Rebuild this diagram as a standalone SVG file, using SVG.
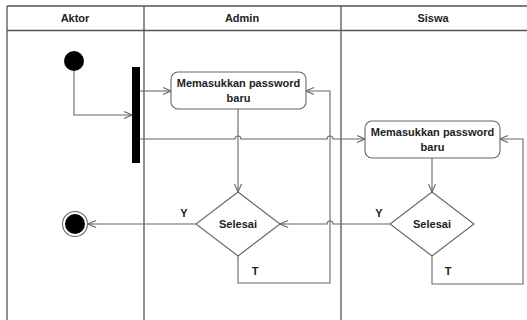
<svg xmlns="http://www.w3.org/2000/svg" width="527" height="320" viewBox="0 0 527 320">
<style>
.lane{stroke:#555;stroke-width:1.3;fill:none}
.edge{stroke:#666;stroke-width:1.1;fill:none}
.box{fill:#fff;stroke:#666;stroke-width:1.1}
.t{font-family:"Liberation Sans",Arial,sans-serif;font-weight:bold;font-size:11px;fill:#222;text-anchor:middle}
</style>
<defs>
<marker id="arr" markerWidth="10" markerHeight="10" refX="9" refY="4" orient="auto" markerUnits="userSpaceOnUse">
<path d="M1,0.5 L9,4 L1,7.5" fill="none" stroke="#666" stroke-width="1.1"/>
</marker>
</defs>
<rect width="527" height="320" fill="#fff"/>
<g id="lanes">
<path class="lane" d="M7,6 H527 M7,30.5 H527 M7,6 V320 M144,6 V320 M341,6 V320"/>
<text class="t" x="75" y="22">Aktor</text>
<text class="t" x="242" y="22">Admin</text>
<text class="t" x="433" y="22">Siswa</text>
</g>
<g id="connectors">
<path class="edge" d="M74,71 V115 H132" marker-end="url(#arr)"/>
<path class="edge" d="M140,91 H171" marker-end="url(#arr)"/>
<path class="edge" d="M140,139 H235 a3,3 0 0 1 6,0 H327 a3,3 0 0 1 6,0 H365" marker-end="url(#arr)"/>
<path class="edge" d="M238,109 V192" marker-end="url(#arr)"/>
<path class="edge" d="M196,224 H88" marker-end="url(#arr)"/>
<path class="edge" d="M238,256 V283 H330 V91 H306" marker-end="url(#arr)"/>
<path class="edge" d="M432,158 V192" marker-end="url(#arr)"/>
<path class="edge" d="M390,224 H333 a3,3 0 0 0 -6,0 H280" marker-end="url(#arr)"/>
<path class="edge" d="M432,256 V284 H523 V139 H500" marker-end="url(#arr)"/>
<text class="t" x="184" y="217">Y</text>
<text class="t" x="255" y="275">T</text>
<text class="t" x="379" y="217">Y</text>
<text class="t" x="448" y="275">T</text>
</g>
<g id="start"><circle cx="74" cy="61" r="10" fill="#000"/></g>
<g id="fork"><rect x="132" y="67" width="8" height="96" fill="#000"/></g>
<g id="admin_input">
<rect class="box" x="171" y="72" width="135" height="37" rx="7"/>
<text class="t" x="238.5" y="87">Memasukkan password</text>
<text class="t" x="238.5" y="102">baru</text>
</g>
<g id="admin_decision">
<polygon class="box" points="238,192 280,224 238,256 196,224"/>
<text class="t" x="238" y="228">Selesai</text>
</g>
<g id="siswa_input">
<rect class="box" x="365" y="121" width="135" height="37" rx="7"/>
<text class="t" x="432.5" y="136">Memasukkan password</text>
<text class="t" x="432.5" y="151">baru</text>
</g>
<g id="siswa_decision">
<polygon class="box" points="432,192 474,224 432,256 390,224"/>
<text class="t" x="432" y="228">Selesai</text>
</g>
<g id="end">
<circle cx="75" cy="224" r="12.5" fill="#fff" stroke="#666" stroke-width="1.1"/>
<circle cx="75" cy="224" r="10" fill="#000"/>
</g>
</svg>
